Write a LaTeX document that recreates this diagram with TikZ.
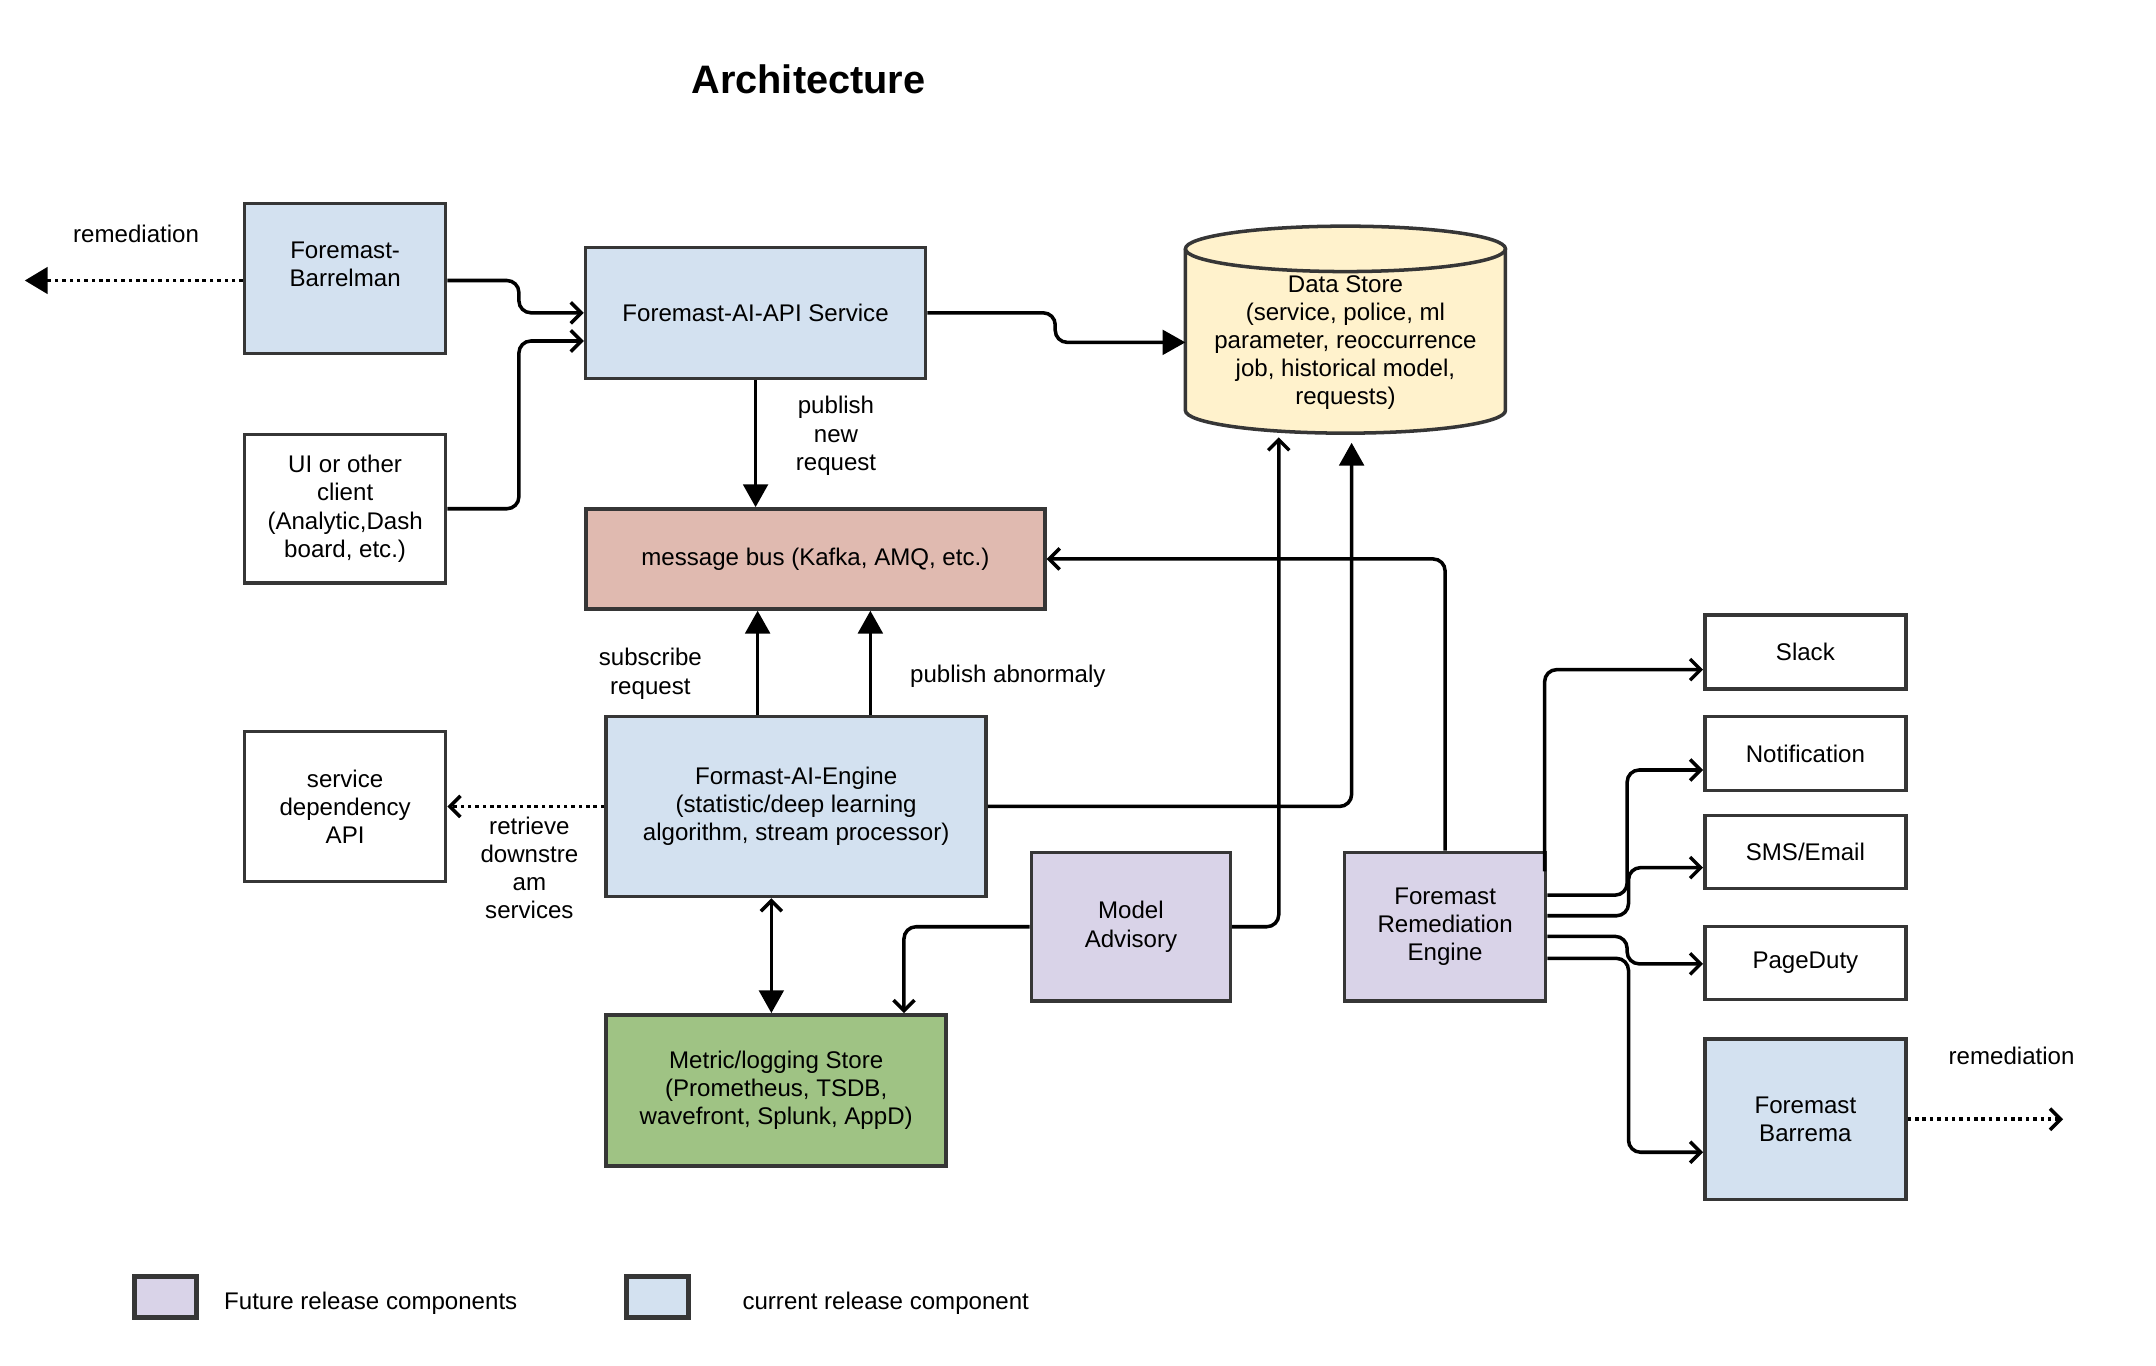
\documentclass[tikz,border=0pt]{standalone}
\usepackage{fontspec}
\setmainfont{Liberation Sans}
\usetikzlibrary{arrows.meta,calc,backgrounds}

\definecolor{boxline}{HTML}{363636}
\definecolor{curblue}{HTML}{D3E1F0}
\definecolor{busrose}{HTML}{E0BAB0}
\definecolor{storeyellow}{HTML}{FFF2CC}
\definecolor{metricgreen}{HTML}{9FC384}
\definecolor{futlilac}{HTML}{D9D3E8}

\begin{document}
\begin{tikzpicture}[x=0.01375cm,y=-0.01375cm,font=\fontsize{6.85pt}{8pt}\selectfont]

      \tikzstyle{box}=[draw=boxline,line width=1pt,align=center,inner sep=1pt]
      \tikzstyle{conn}=[line width=1pt,rounded corners=0.12cm]
      \tikzstyle{tri}=[-{Triangle[length=6.5pt,width=7pt]}]
      \tikzstyle{barb}=[-{Straight Barb[length=3pt,width=6pt]}]
      \tikzstyle{dots}=[dash pattern=on 1pt off 1.1pt]
      \tikzstyle{note}=[align=center,inner sep=1pt]

      \useasboundingbox (0,0) rectangle (1568,993);

      \node (title) [font=\fontsize{11.3pt}{13pt}\selectfont\bfseries] at (588,58) {Architecture};

      % left column
      \node (bm) [box,fill=curblue,minimum width=2.01cm,minimum height=1.5cm] at (251,202.5)
          {Foremast-\\Barrelman\\\mbox{}};
      \node (ui) [box,minimum width=2.01cm,minimum height=1.485cm] at (251,370)
          {UI or other\\client\\(Analytic,Dash\\board, etc.)};
      \node (dep) [box,minimum width=2.01cm,minimum height=1.5cm] at (251,586.5)
          {service\\dependency\\API};

      % middle
      \node (api) [box,fill=curblue,minimum width=3.4cm,minimum height=1.31cm] at (549.5,227.5)
          {Foremast-AI-API Service};
      \node (bus) [box,fill=busrose,minimum width=4.59cm,minimum height=1.0cm] at (593,406.5)
          {message bus (Kafka, AMQ, etc.)};
      \node (engine) [box,fill=curblue,minimum width=3.8cm,minimum height=1.8cm] at (579,586.5)
          {Formast-AI-Engine\\(statistic/deep learning\\algorithm, stream processor)};
      \node (metric) [box,fill=metricgreen,minimum width=3.4cm,minimum height=1.51cm] at (564.5,793)
          {Metric/logging Store\\(Prometheus, TSDB,\\wavefront, Splunk, AppD)};
      \node (model) [box,fill=futlilac,minimum width=1.99cm,minimum height=1.485cm] at (822.5,674)
          {Model\\Advisory};

      % data store
      \node (store) [align=center,inner sep=0pt,outer sep=0pt,minimum width=3.2cm,minimum height=1.87cm] at (978.5,249)
          {Data Store\\(service, police, ml\\parameter, reoccurrence\\job, historical model,\\requests)};
      \begin{scope}[on background layer]
        \fill[storeyellow] (store.north west) -- ($(store.south west)+(0,-18.5)$)
            arc[start angle=180,end angle=360,x radius=1.6cm,y radius=0.227cm]
            -- (store.north east)
            arc[start angle=0,end angle=180,x radius=1.6cm,y radius=0.227cm] -- cycle;
        \draw[boxline,line width=1pt] (store.north west) -- ($(store.south west)+(0,-18.5)$)
            arc[start angle=180,end angle=360,x radius=1.6cm,y radius=0.227cm]
            -- (store.north east);
        \draw[boxline,line width=1pt] (store.north) ellipse[x radius=1.6cm,y radius=0.227cm];
      \end{scope}

      % right side
      \node (remed) [box,fill=futlilac,minimum width=2.01cm,minimum height=1.485cm] at (1051,674)
          {Foremast\\Remediation\\Engine};
      \node (slack) [box,minimum width=2.01cm,minimum height=0.74cm] at (1313,474) {Slack};
      \node (notif) [box,minimum width=2.01cm,minimum height=0.74cm] at (1313,548) {Notification};
      \node (sms) [box,minimum width=2.01cm,minimum height=0.73cm] at (1313,619.5) {SMS/Email};
      \node (page) [box,minimum width=2.01cm,minimum height=0.73cm] at (1313,700.5) {PageDuty};
      \node (barrema) [box,fill=curblue,minimum width=2.01cm,minimum height=1.6cm] at (1313,814)
          {Foremast\\Barrema};

      % legend
      \node (futkey) [box,line width=1.4pt,fill=futlilac,minimum width=0.62cm,minimum height=0.41cm] at (120.5,943) {};
      \node (futtext) [anchor=west] at (154,948) {Future release components};
      \node (curkey) [box,line width=1.4pt,fill=curblue,minimum width=0.62cm,minimum height=0.41cm] at (478.5,943) {};
      \node (curtext) [anchor=west] at (531,948) {current release component};

      % labels
      \node (remleft) [note] at (99,170) {remediation};
      \node (pubnew) [note] at (608,317) {publish\\new\\request};
      \node (subreq) [note] at (473,490) {subscribe\\request};
      \node (pubab) [note] at (733,492) {publish abnormaly};
      \node (retr) [note] at (385,631) {retrieve\\downstre\\am\\services};
      \node (remright) [note] at (1463,768) {remediation};

      \coordinate (remout) at (18,204);
      \coordinate (barout) at ($(barrema.east)+(113,0)$);
      \coordinate (sub) at ($(engine.north)+(-28,0)$);
      \coordinate (pub) at ($(engine.north)+(54,0)$);
      \coordinate (mdl) at ($(metric.north east)+(-32,0)$);

      % connectors
      \draw[conn,dots,-{Triangle[length=6.5pt,width=7.5pt]}] ($(bm.west)+(0,1.5)$) -- (remout |- {$(bm.west)+(0,1.5)$});
      \draw[conn,barb] ($(bm.east)+(0,1.5)$) -- ++(52,0) |- (api.west);
      \draw[conn,barb] (ui.east) -- ++(52,0) |- ($(api.west)+(0,20.5)$);
      \draw[conn,tri] (api.east) -- ++(93,0) |- (store.west);
      \draw[conn,tri] (api.south) -- (api.south |- bus.north);
      \draw[conn,tri] (sub) -- (sub |- bus.south);
      \draw[conn,tri] (pub) -- (pub |- bus.south);
      \draw[conn,dots,barb] (engine.west) -- (dep.east);
      \draw[conn,tri] (engine.east) -| ($(store.south)+(4.5,5)$);
      \draw[conn,{Straight Barb[length=3pt,width=6pt]}-{Triangle[length=6.5pt,width=7pt]}] ($(engine.south)+(-18,0)$) -- ($(metric.north)+(-3.5,0)$);
      \draw[conn,barb] (model.west) -| (mdl);
      \draw[conn,barb] (model.east) -| ($(store.south)+(-48.5,1)$);
      \draw[conn,barb] (remed.north) |- (bus.east);
      \draw[conn,barb] ($(remed.north east)+(-2,15)$) |- ($(slack.west)+(0,13)$);
      \draw[conn,barb] ($(remed.east)+(0,-23)$) -- ++(58,0) |- ($(notif.west)+(0,12)$);
      \draw[conn,barb] ($(remed.east)+(0,-8)$) -- ++(59,0) |- ($(sms.west)+(0,11.5)$);
      \draw[conn,barb] ($(remed.east)+(0,7)$) -- ++(58,0) |- ($(page.west)+(0,0.5)$);
      \draw[conn,barb] ($(remed.east)+(0,23)$) -- ++(59,0) |- ($(barrema.west)+(0,24)$);
      \draw[conn,dots,barb] (barrema.east) -- (barout);

    \end{tikzpicture}
\end{document}
